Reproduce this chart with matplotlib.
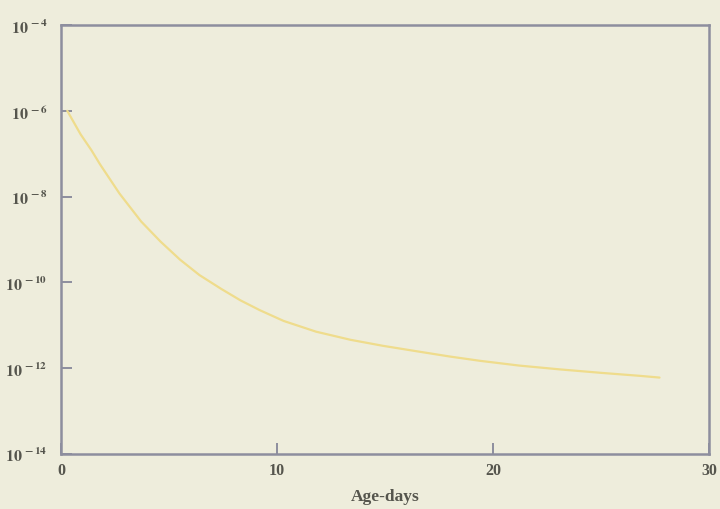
import math

import matplotlib
matplotlib.use('Agg')
import matplotlib.pyplot as plt
from matplotlib.ticker import FixedLocator, FuncFormatter, NullLocator

# values (age in days, log10 of the quantity)
age_days = [0.28, 0.9, 1.4, 1.8, 2.7, 3.7, 4.6, 5.5, 6.4, 7.4, 8.3, 9.2,
            10.3, 11.8, 13.4, 14.9, 16.5, 18.0, 19.4, 21.2, 23.1, 25.0, 26.8, 27.7]
log_value = [-6.00, -6.55, -6.92, -7.25, -7.93, -8.58, -9.05, -9.47, -9.83, -10.15, -10.42, -10.65,
             -10.90, -11.15, -11.34, -11.48, -11.61, -11.73, -11.83, -11.94, -12.03, -12.11, -12.18, -12.22]
x_ticks = [0, 10, 20, 30]
y_exps = [-4, -6, -8, -10, -12, -14]

values = [10.0 ** v for v in log_value]

plt.rcParams['mathtext.fontset'] = 'stix'
plt.rcParams['mathtext.default'] = 'bf'

bg = '#eeeddc'
axis_col = '#8d8e9e'
text_col = '#55554d'

fig = plt.figure(figsize=(7.2, 5.1), dpi=100, facecolor=bg)
ax = fig.add_axes([0.085, 0.108, 0.900, 0.841], facecolor=bg)

ax.plot(age_days, values, color='#efdc8c', linewidth=1.6,
        solid_capstyle='round', solid_joinstyle='round')

ax.set_yscale('log')
ax.set_xlim(0, 30)
ax.set_ylim(1e-14, 1e-4)

ax.xaxis.set_major_locator(FixedLocator(x_ticks))
ax.yaxis.set_major_locator(FixedLocator([10.0 ** e for e in y_exps]))
ax.yaxis.set_minor_locator(NullLocator())
ax.xaxis.set_minor_locator(NullLocator())
ax.yaxis.set_major_formatter(FuncFormatter(lambda v, p: r'$10^{\,%d}$' % round(math.log10(v))))
ax.xaxis.set_major_formatter(FuncFormatter(lambda v, p: '%d' % v))

for s in ax.spines.values():
    s.set_color(axis_col)
    s.set_linewidth(1.8)

ax.tick_params(axis='both', direction='in', length=8, width=1.4, color=axis_col,
               labelcolor=text_col, labelsize=11.5)
ax.tick_params(axis='y', pad=10)
ax.tick_params(axis='x', pad=6)
for lab in ax.get_xticklabels():
    lab.set_fontfamily('Liberation Serif')
    lab.set_fontweight('bold')

ax.set_xlabel('Age-days', fontfamily='Liberation Serif', fontweight='bold',
              fontsize=12.5, color=text_col, labelpad=7)

fig.savefig('out.png', dpi=100, facecolor=bg)
